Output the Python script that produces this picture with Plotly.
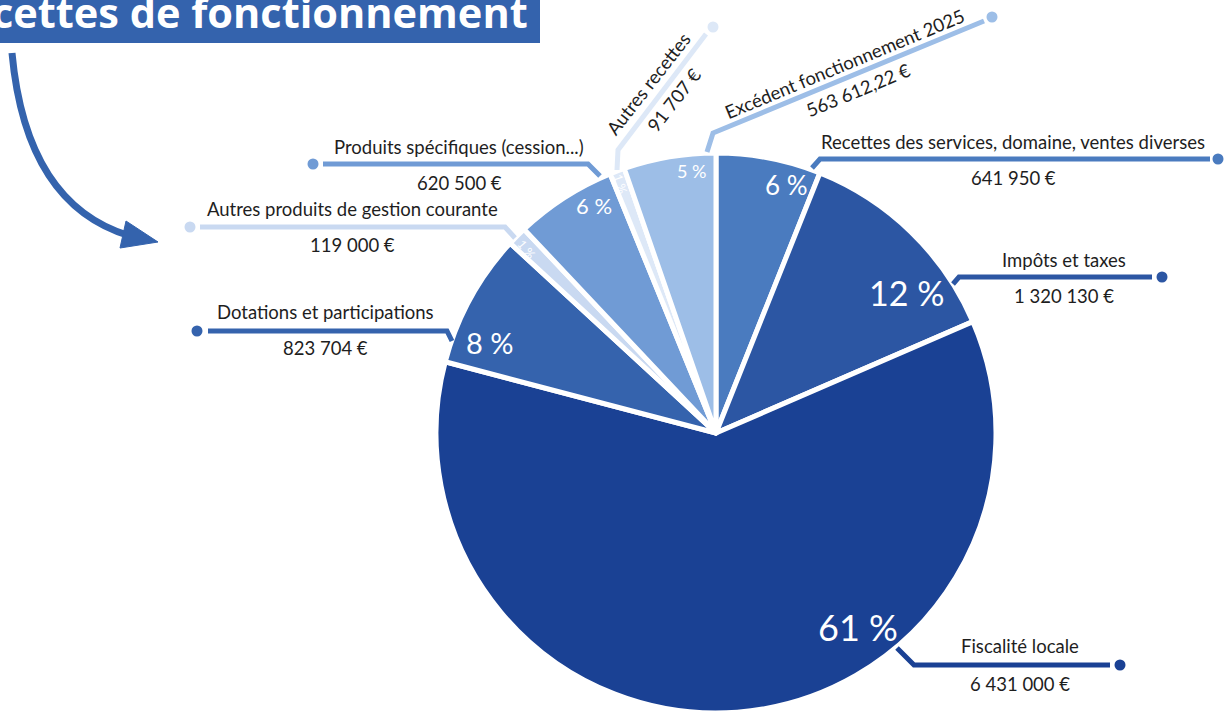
import plotly.graph_objects as go

# ---------------- data ----------------
categories = [
    "Recettes des services, domaine, ventes diverses",
    "Impôts et taxes",
    "Fiscalité locale",
    "Dotations et participations",
    "Autres produits de gestion courante",
    "Produits spécifiques (cession...)",
    "Autres recettes",
    "Excédent fonctionnement 2025",
]
values = [641950, 1320130, 6431000, 823704, 119000, 620500, 91707, 563612.22]
value_labels = ["641 950 €", "1 320 130 €", "6 431 000 €", "823 704 €",
                "119 000 €", "620 500 €", "91 707 €", "563 612,22 €"]
title_text = "Recettes de fonctionnement"

# ---------------- styles ----------------
colors = ["#4a7bbf", "#2c56a3", "#1a4194", "#3563ad",
          "#c9d9f1", "#709bd5", "#dde8f7", "#9dbee7"]
W, H = 1225, 713
CX, CY, R = 716, 433, 280
FONT = "Lato, 'Open Sans', sans-serif"
LABEL_SIZE = 18.5

# percent label placement (pixels), font size, angle
pct_pos = [(786, 185), (906, 292), (858, 627), (490, 342),
           (527, 249), (594, 205), (621, 184), (691, 171)]
pct_size = [26, 34, 36, 29, 12, 22, 12, 18]
pct_angle = [0, 0, 0, 0, 50, 0, 72, 0]

# leader lines: polyline points (pixels), dot, label centre, value centre, angle
leaders = [
    dict(pts=[(812, 168), (820, 159), (1210, 159)], dot=(1218, 159), lab=(1013, 142), val=(1013, 178), ang=0),
    dict(pts=[(953, 284), (959, 277), (1152, 277)], dot=(1162, 277), lab=(1064, 260), val=(1064, 296), ang=0),
    dict(pts=[(897, 648), (914, 665), (1110, 665)], dot=(1120, 665), lab=(1020, 646), val=(1020, 684), ang=0),
    dict(pts=[(452, 341), (447, 331), (208, 331)], dot=(197, 331), lab=(325, 312), val=(325, 348), ang=0),
    dict(pts=[(515, 238), (505, 227), (200, 227)], dot=(190, 227), lab=(352, 209), val=(352, 245), ang=0),
    dict(pts=[(600, 176), (588, 164), (323, 164)], dot=(313, 164), lab=(459, 147), val=(459, 183), ang=0),
    dict(pts=[(617, 170), (618, 150), (706, 34)], dot=(713, 27), lab=(648, 84), val=(674, 100), ang=-52),
    dict(pts=[(707, 152), (713, 133), (984, 21)], dot=(992, 17), lab=(844, 64), val=(858, 90), ang=-22.5),
]

total = sum(values)
pcts = [f"{round(v / total * 100)}\u00a0%" for v in values]

fig = go.Figure()
fig.add_trace(go.Pie(
    labels=categories, values=values, sort=False, direction="clockwise", rotation=0,
    marker=dict(colors=colors, line=dict(color="white", width=5)),
    textinfo="none", hoverinfo="label+value+percent", showlegend=False,
    domain=dict(x=[(CX - R) / W, (CX + R) / W], y=[(H - CY - R) / H, (H - CY + R) / H]),
))

shapes = []
annotations = []

# title box + arrow
shapes.append(dict(type="rect", xref="x", yref="y", x0=-10, x1=540, y0=-5, y1=43,
                   fillcolor="#3463ad", line=dict(width=0), layer="above"))
annotations.append(dict(xref="x", yref="y", x=530, y=12, xanchor="right", yanchor="middle",
                        text=f"<b>{title_text}</b>", showarrow=False,
                        font=dict(family="'Open Sans', sans-serif", size=41.5, color="white")))
shapes.append(dict(type="path", xref="x", yref="y", path="M 12,53 Q 26,205 130,236",
                   line=dict(color="#3463ad", width=7)))
shapes.append(dict(type="path", xref="x", yref="y", path="M 158,242 L 126,221 L 120,248 Z",
                   fillcolor="#3463ad", line=dict(color="#3463ad", width=1)))

for i, ld in enumerate(leaders):
    p = ld["pts"]
    path = "M " + " L ".join(f"{x},{y}" for x, y in p)
    shapes.append(dict(type="path", xref="x", yref="y", path=path,
                       line=dict(color=colors[i], width=5)))
    dx, dy = ld["dot"]
    shapes.append(dict(type="circle", xref="x", yref="y", x0=dx - 5.5, x1=dx + 5.5,
                       y0=dy - 5.5, y1=dy + 5.5, fillcolor=colors[i], line=dict(width=0)))
    annotations.append(dict(xref="x", yref="y", x=ld["lab"][0], y=ld["lab"][1], text=categories[i],
                            showarrow=False, textangle=ld["ang"], xanchor="center", yanchor="middle",
                            font=dict(family=FONT, size=LABEL_SIZE, color="#1e1e1e")))
    annotations.append(dict(xref="x", yref="y", x=ld["val"][0], y=ld["val"][1], text=value_labels[i],
                            showarrow=False, textangle=ld["ang"], xanchor="center", yanchor="middle",
                            font=dict(family=FONT, size=LABEL_SIZE, color="#1e1e1e")))

for i in range(len(values)):
    annotations.append(dict(xref="x", yref="y", x=pct_pos[i][0], y=pct_pos[i][1], text=pcts[i],
                            showarrow=False, textangle=pct_angle[i], xanchor="center", yanchor="middle",
                            font=dict(family=FONT, size=pct_size[i], color="white")))

fig.update_layout(
    width=W, height=H, margin=dict(l=0, r=0, t=0, b=0),
    paper_bgcolor="white", plot_bgcolor="rgba(0,0,0,0)",
    xaxis=dict(range=[0, W], visible=False, fixedrange=True),
    yaxis=dict(range=[H, 0], visible=False, fixedrange=True),
    shapes=shapes, annotations=annotations, showlegend=False,
)

fig.write_html("out.html", config={"displayModeBar": False},
               post_script="document.body.style.margin='0';document.body.style.overflow='hidden';")
